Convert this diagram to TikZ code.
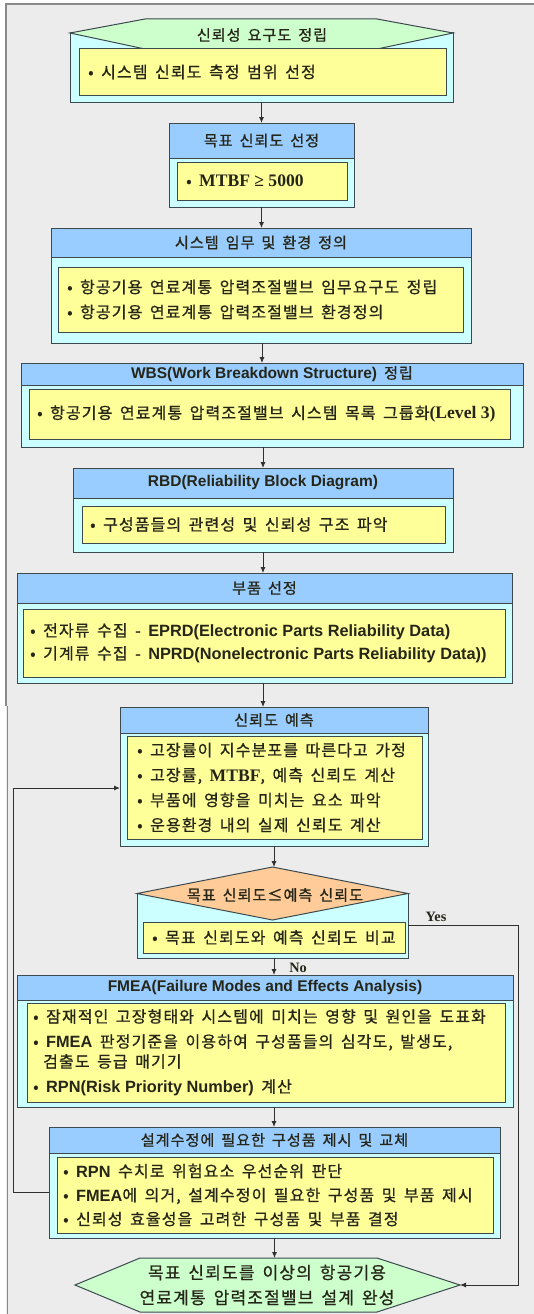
\documentclass[tikz,border=0pt]{standalone}
\usepackage{fontspec}
\usetikzlibrary{arrows.meta}
\setmainfont{Liberation Sans}
\newfontfamily\kr{Noto Sans CJK KR}[WordSpace=1.6, LetterSpace=7, FakeBold=0.8]
\newfontfamily\krh{Noto Sans CJK KR}[WordSpace=1.6, LetterSpace=6, FakeBold=0.8]
\newfontfamily\ars{Liberation Sans}[Scale=1.02]
\newfontfamily\tms{Liberation Serif}[Scale=1.1]
\newcommand\AB[1]{{\ars\bfseries #1}}
\newcommand\TB[1]{{\tms\bfseries #1}}
\definecolor{bgc}{HTML}{ECECEC}
\definecolor{frm}{HTML}{8A8A8A}
\definecolor{bd}{HTML}{3C4A50}
\definecolor{hb}{HTML}{99CCFF}
\definecolor{cy}{HTML}{CCFFFF}
\definecolor{yl}{HTML}{FFFF99}
\definecolor{gr}{HTML}{CCFFCC}
\definecolor{org}{HTML}{FFCC99}
\definecolor{tx}{HTML}{262618}
\definecolor{ln}{HTML}{303030}
\tikzset{
  corners/.style n args={4}{at={({(#1+#3)/2},{(#2+#4)/2})}, minimum width={#3-#1}, minimum height={#4-#2}, inner sep=0pt, outer sep=0pt},
  cbox/.style={draw=bd, fill=cy, line width=1pt},
  hbox/.style={draw=bd, fill=hb, line width=1pt, text=tx, font=\krh\fontsize{15.2}{18}\selectfont},
  ybox/.style={draw=bd, fill=yl, line width=1pt},
  bt/.style={anchor=west, inner sep=0pt, align=left, text=tx, font=\kr\fontsize{16}{25}\selectfont},
  ht/.style={inner sep=0pt, text=tx, font=\krh\fontsize{15.2}{18}\selectfont},
  arr/.style={-{Latex[length=6pt,width=5pt]}, line width=0.9pt, draw=ln},
  lbl/.style={inner sep=0pt, text=tx, font=\tms\bfseries\fontsize{13}{15}\selectfont}
}
\begin{document}
\begin{tikzpicture}[x=1pt,y=-1pt]
\useasboundingbox (0,0) rectangle (534,1314);
\fill[white] (0,0) rectangle (534,1314);
\fill[bgc] (6,4) rectangle (534,1314);
\draw[frm, line width=1.5pt] (534,4) -- (6,4) -- (6,706);
\draw[frm, line width=1.5pt] (7.5,706) -- (7.5,1314);

% block 1
\node[cbox, corners={70}{33}{453}{102}] (c1) {};
\fill[gr, draw=bd, line width=1pt] (145,19) -- (377,19) -- (453,33) -- (377,49) -- (145,49) -- (70,33) -- cycle;
\node[ht] (h1) at (262,35) {신뢰성 요구도 정립};
\node[ybox, corners={79}{49}{446}{95}] (y1) {};
\node[bt] (t1) at ([xshift=9pt]y1.west) {• 시스템 신뢰도 측정 범위 선정};

% block 2
\node[cbox, corners={169}{123}{354}{207}] (c2) {};
\node[hbox, corners={169}{123}{354}{158}] (h2) {목표 신뢰도 선정};
\node[ybox, corners={177}{162}{347}{200}] (y2) {};
\node[bt] (t2) at ([xshift=9pt]y2.west) {• \TB{MTBF ≥ 5000}};

% block 3
\node[cbox, corners={51}{228}{471}{343}] (c3) {};
\node[hbox, corners={51}{228}{471}{257}] (h3) {시스템 임무 및 환경 정의};
\node[ybox, corners={58}{267}{463}{332}] (y3) {};
\node[bt] (t3) at ([xshift=9pt]y3.west) {• 항공기용 연료계통 압력조절밸브 임무요구도 정립\\• 항공기용 연료계통 압력조절밸브 환경정의};

% block 4
\node[cbox, corners={21}{363}{523}{447}] (c4) {};
\node[hbox, corners={21}{363}{523}{385}] (h4) {\AB{WBS(Work Breakdown Structure)} 정립};
\node[ybox, corners={29}{389}{510}{439}] (y4) {};
\node[bt] (t4) at ([xshift=8pt]y4.west) {• 항공기용 연료계통 압력조절밸브 시스템 목록 그룹화\TB{(Level 3)}};

% block 5
\node[cbox, corners={73}{468}{453}{552}] (c5) {};
\node[hbox, corners={73}{468}{453}{498}] (h5) {\AB{RBD(Reliability Block Diagram)}};
\node[ybox, corners={82}{506}{445}{543}] (y5) {};
\node[bt] (t5) at ([xshift=8pt]y5.west) {• 구성품들의 관련성 및 신뢰성 구조 파악};

% block 6
\node[cbox, corners={17}{573}{512}{683}] (c6) {};
\node[hbox, corners={17}{573}{512}{603}] (h6) {부품 선정};
\node[ybox, corners={23}{609}{505}{677}] (y6) {};
\node[bt, font=\kr\fontsize{16}{23}\selectfont] (t6) at ([xshift=7pt]y6.west) {• 전자류 수집 - \AB{EPRD(Electronic Parts Reliability Data)}\\• 기계류 수집 - \AB{NPRD(Nonelectronic Parts Reliability Data))}};

% block 7
\node[cbox, corners={120}{707}{428}{846}] (c7) {};
\node[hbox, corners={120}{707}{428}{733}] (h7) {신뢰도 예측};
\node[ybox, corners={127}{736}{422}{839}] (y7) {};
\node[bt] (t7) at ([xshift=10pt]y7.west) {• 고장률이 지수분포를 따른다고 가정\\• 고장률, \TB{MTBF}, 예측 신뢰도 계산\\• 부품에 영향을 미치는 요소 파악\\• 운용환경 내의 실제 신뢰도 계산};

% decision
\node[cbox, corners={137}{893}{408}{958}] (c8) {};
\node[corners={137}{867}{408}{920}] (d8) {};
\fill[org, draw=bd, line width=1pt] (d8.north) -- (d8.east) -- (d8.south) -- (d8.west) -- cycle;
\node[ht] (h8) at (275,895) {목표 신뢰도≤예측 신뢰도};
\node[ybox, corners={143}{922}{405}{953}] (y8) {};
\node[bt] (t8) at ([xshift=9pt]y8.west) {• 목표 신뢰도와 예측 신뢰도 비교};

% FMEA
\node[cbox, corners={17}{975}{513}{1107}] (c9) {};
\node[hbox, corners={17}{975}{513}{1000}] (h9) {\AB{FMEA(Failure Modes and Effects Analysis)}};
\node[ybox, corners={27}{1003}{505}{1102}] (y9) {};
\node[bt] (t9) at ([xshift=6pt]y9.west) {• 잠재적인 고장형태와 시스템에 미치는 영향 및 원인을 도표화\\• \AB{FMEA} 판정기준을 이용하여 구성품들의 심각도, 발생도,\\[-5pt]\hspace*{10pt}검출도 등급 매기기\\• \AB{RPN(Risk Priority Number)} 계산};

% last block
\node[cbox, corners={49}{1127}{500}{1238}] (c10) {};
\node[hbox, corners={49}{1127}{500}{1153}] (h10) {설계수정에 필요한 구성품 제시 및 교체};
\node[ybox, corners={57}{1157}{493}{1233}] (y10) {};
\node[bt, font=\kr\fontsize{16}{24}\selectfont] (t10) at ([xshift=6pt]y10.west) {• \AB{RPN} 수치로 위험요소 우선순위 판단\\• \AB{FMEA}에 의거, 설계수정이 필요한 구성품 및 부품 제시\\• 신뢰성 효율성을 고려한 구성품 및 부품 결정};

% end
\node[corners={75}{1258}{460}{1312}] (e) {};
\fill[gr, draw=bd, line width=1pt] (140,1258) -- (377,1258) -- (e.east) -- (377,1312) -- (140,1312) -- (e.west) -- cycle;
\node[ht, align=center, font=\kr\fontsize{17}{25}\selectfont] (te) at (267,1285) {목표 신뢰도를 이상의 항공기용\\연료계통 압력조절밸브 설계 완성};

% arrows
\draw[arr] (c1.south) -- (c1.south |- h2.north);
\draw[arr] (c2.south) -- (c2.south |- h3.north);
\draw[arr] (262,343) -- (262,363);
\draw[arr] (263,447) -- (263,468);
\draw[arr] (c5.south) -- (c5.south |- h6.north);
\draw[arr] (263,683) -- (263,707);
\draw[arr] (c7.south) -- (c7.south |- d8.north);
\draw[arr] (274,958) -- (274,975);
\node[lbl] (no) at (298,968) {No};
\draw[arr] (c10.south) -- (c10.south |- e.north);
\draw[arr] (274,1107) -- (274,1127);

\coordinate (la) at (13,1192);
\coordinate (lb) at (13,788);
\draw[arr] (c10.west |- la) -- (la) -- (lb) -- (c7.west |- lb);

\coordinate (ya) at (518,925);
\coordinate (yb) at (518,1285);
\draw[arr] (c8.east |- ya) -- (ya) -- (yb) -- (e.east);
\node[lbl] (yes) at (436,917) {Yes};
\end{tikzpicture}
\end{document}
